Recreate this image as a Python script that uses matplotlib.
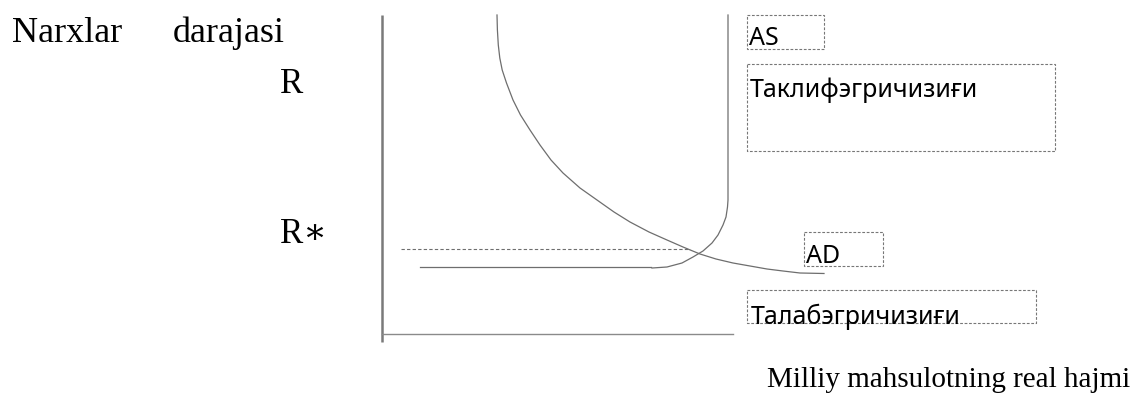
#chizma uchun kutubxonalar
import matplotlib
matplotlib.use('Agg')
import matplotlib.pyplot as plt
from matplotlib.patches import Rectangle

#AD egri chizigi nuqtalari (rasmdan o'qilgan, piksel)
ad_x = [497, 497.4, 498.3, 499.8, 502.2, 506.5, 513, 520.5, 530, 540, 551, 563, 580, 597,
        614, 630, 649, 667, 683, 700, 716, 733, 750, 767, 783, 800, 824]
ad_y = [15, 30, 45, 58, 70, 83, 100, 115, 130, 145, 160, 173, 188, 200,
        212, 222, 232, 240, 247, 254, 259, 263, 266, 269, 271, 273, 273.5]

#AS egri chizigi nuqtalari
as_x = [728, 728, 727.5, 726, 723, 718, 712, 703, 693, 682, 667, 652]
as_y = [15, 200, 207, 217, 225, 235, 243, 251, 257, 263, 267, 268]

#AS pastki gorizontal qismi va R* darajasi
as_base_x = [420, 651]
as_base_y = [267, 267]
r_star_x = [401, 690]
r_star_y = [249, 249]

#matnlar
y_label = ['Narxlar', 'darajasi']
p_labels = ['R', 'R\u2217']
x_label = 'Milliy mahsulotning real hajmi'
box_texts = ['AS', 'Таклифэгричизиғи', 'AD', 'Талабэгричизиғи']

#rasm
fig = plt.figure(figsize=(11.38, 3.96), dpi=100)
ax = fig.add_axes([0, 0, 1, 1])
ax.set_xlim(0, 1138)
ax.set_ylim(396, 0)
ax.axis('off')

serif = ['Liberation Serif', 'DejaVu Serif']
sans = 'Noto Sans'
grey = '#6e6e6e'

#o'qlar
ax.plot([382, 382], [15, 342], color='#7a7a7a', lw=1.8, solid_capstyle='butt')
ax.plot([382, 733], [334, 334], color='#8a8a8a', lw=1.0)

#egri chiziqlar
ax.plot(ad_x, ad_y, color=grey, lw=0.9)
ax.plot(as_x, as_y, color=grey, lw=0.9)
ax.plot(as_base_x, as_base_y, color=grey, lw=0.9)
ax.plot(r_star_x, r_star_y, color=grey, lw=0.8, linestyle=(0, (3, 2)))

#matnli ramkalar
boxes = [(747, 15, 77, 34), (747, 64, 308, 87), (804, 232, 79, 34), (747, 290, 289, 33)]
text_pos = [(749, 45), (750, 97), (806, 263), (751, 324)]
for (bx, by, bw, bh), (tx, ty), t in zip(boxes, text_pos, box_texts):
    r = Rectangle((bx, by), bw, bh, fill=False, edgecolor='#777777', lw=0.8,
                  linestyle=(0, (2.5, 1.5)))
    ax.add_patch(r)
    txt = ax.text(tx, ty, t, fontsize=18, family=sans, va='baseline', ha='left')
    clip = Rectangle((bx, by), bw, bh, transform=ax.transData)
    txt.set_clip_path(clip)

#chap tomondagi yozuvlar
ax.text(12, 42, y_label[0], fontsize=26, family=serif, va='baseline')
ax.text(173, 42, y_label[1], fontsize=26, family=serif, va='baseline')
ax.text(280, 93, p_labels[0], fontsize=25, family=serif, va='baseline')
ax.text(280, 243, p_labels[1], fontsize=25, family=serif, va='baseline')

#pastki yozuv
ax.text(1130, 387, x_label, fontsize=21, family=serif, va='baseline', ha='right')

fig.savefig('out.png', dpi=100)
